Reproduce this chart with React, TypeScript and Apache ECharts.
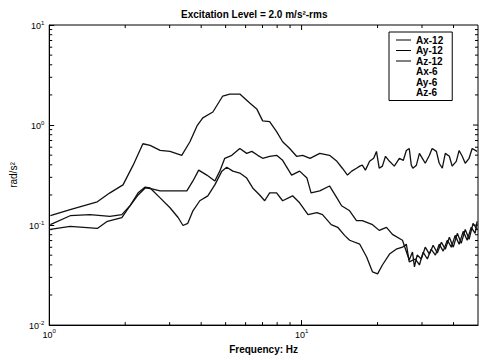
import React, { useEffect, useRef } from "react";
import * as echarts from "echarts";

// Frequency (Hz), response pairs
const axTop: number[][] = [
  [1.01, 0.124], [1.21, 0.143], [1.55, 0.171], [1.74, 0.21], [1.96, 0.252], [2.15, 0.397],
  [2.35, 0.65], [2.51, 0.625], [2.75, 0.557], [3.01, 0.545], [3.35, 0.498], [3.61, 0.68],
  [3.85, 0.98], [4.06, 1.18], [4.45, 1.35], [4.87, 1.95], [5.19, 2.04], [5.69, 2.04],
  [6.23, 1.66], [6.64, 1.45], [7.01, 1.1], [7.47, 1.08], [7.96, 0.86], [8.41, 0.68],
  [8.97, 0.583], [9.55, 0.487], [10.1, 0.498], [10.8, 0.465], [11.8, 0.521], [12.9, 0.498],
  [13.8, 0.434], [14.5, 0.37], [15.2, 0.316], [15.8, 0.346], [16.5, 0.37], [17.0, 0.388],
  [17.4, 0.397], [17.9, 0.354], [18.6, 0.434], [19.3, 0.465], [19.8, 0.545], [20.3, 0.37],
  [20.9, 0.388], [21.5, 0.487], [22.3, 0.434], [23.3, 0.388], [24.4, 0.465], [25.3, 0.444],
  [26.0, 0.557], [26.7, 0.583], [27.2, 0.397], [27.6, 0.37], [28.5, 0.397], [29.3, 0.521],
  [30.1, 0.465], [30.9, 0.415], [32.1, 0.498], [32.9, 0.583], [34.2, 0.545], [35.1, 0.415],
  [36.1, 0.37], [37.1, 0.521], [38.5, 0.487], [39.5, 0.388], [41.0, 0.434], [42.1, 0.557],
  [43.3, 0.487], [44.5, 0.415], [46.1, 0.465], [47.4, 0.583], [49.6, 0.545],
];

const ayMid: number[][] = [
  [1.01, 0.101], [1.21, 0.124], [1.45, 0.127], [1.74, 0.122], [1.94, 0.127], [2.09, 0.156],
  [2.25, 0.2], [2.4, 0.235], [2.55, 0.23], [2.75, 0.22], [3.09, 0.22], [3.51, 0.22],
  [3.71, 0.276], [3.91, 0.354], [4.21, 0.316], [4.53, 0.276], [4.74, 0.346], [4.96, 0.465],
  [5.29, 0.498], [5.69, 0.583], [6.06, 0.521], [6.35, 0.545], [6.7, 0.498], [7.01, 0.465],
  [7.47, 0.487], [7.96, 0.498], [8.41, 0.444], [9.13, 0.316], [9.82, 0.346], [10.5, 0.295],
  [10.9, 0.21], [11.8, 0.22], [12.9, 0.246], [13.8, 0.187], [14.4, 0.156], [15.5, 0.139],
  [16.5, 0.111], [17.4, 0.111], [19.1, 0.101], [20.3, 0.0885], [21.7, 0.095], [22.9, 0.0807],
  [25.1, 0.0705], [26.7, 0.0448], [27.5, 0.0537], [28.0, 0.0382], [28.7, 0.0501], [29.8, 0.0458],
  [30.9, 0.0601], [32.1, 0.0513], [33.2, 0.0628], [34.5, 0.0525], [35.8, 0.0673], [37.1, 0.0574],
  [38.5, 0.0755], [39.9, 0.0601], [41.4, 0.0827], [42.9, 0.0658], [44.5, 0.0905], [46.1, 0.0722],
  [47.8, 0.104], [49.6, 0.0905],
];

const azLow: number[][] = [
  [1.01, 0.0905], [1.21, 0.097], [1.55, 0.0925], [1.7, 0.109], [1.94, 0.119], [2.09, 0.156],
  [2.25, 0.21], [2.4, 0.24], [2.51, 0.235], [2.75, 0.187], [3.01, 0.149], [3.24, 0.119],
  [3.39, 0.099], [3.54, 0.104], [3.71, 0.139], [3.95, 0.175], [4.25, 0.196], [4.53, 0.252],
  [4.83, 0.346], [5.05, 0.379], [5.34, 0.346], [5.69, 0.331], [6.06, 0.295], [6.4, 0.235],
  [6.82, 0.2], [7.14, 0.175], [7.47, 0.21], [7.96, 0.21], [8.41, 0.175], [9.21, 0.196],
  [9.82, 0.167], [10.6, 0.127], [11.5, 0.133], [12.1, 0.127], [13.1, 0.101], [13.9, 0.095],
  [14.8, 0.0789], [15.5, 0.0705], [17.0, 0.0644], [18.1, 0.0479], [19.1, 0.034], [20.0, 0.0325],
  [20.9, 0.0399], [22.3, 0.0513], [23.7, 0.0574], [25.1, 0.0601], [26.0, 0.0644], [26.7, 0.0428],
  [28.2, 0.0458], [29.3, 0.0399], [30.3, 0.0537], [31.5, 0.0458], [32.6, 0.0574], [33.9, 0.0501],
  [35.1, 0.0644], [36.4, 0.0549], [37.8, 0.0705], [39.2, 0.0601], [40.6, 0.0789], [42.1, 0.0644],
  [43.7, 0.0865], [45.3, 0.0705], [47.0, 0.095], [48.7, 0.0827], [49.6, 0.109],
];

const seriesNames = ["Ax-12", "Ay-12", "Az-12", "Ax-6", "Ay-6", "Az-6"];
const xMinor = [2, 3, 4, 5, 6, 7, 8, 9, 20, 30, 40];
const yMinor = [
  0.02, 0.03, 0.04, 0.05, 0.06, 0.07, 0.08, 0.09,
  0.2, 0.3, 0.4, 0.5, 0.6, 0.7, 0.8, 0.9,
  2, 3, 4, 5, 6, 7, 8, 9,
];
const xMajor = [10];
const yMajor = [0.1, 1];

const FONT = "'Liberation Sans', Arial, sans-serif";

const expLabel = (v: number) => {
  const l = Math.log10(v);
  const e = Math.round(l);
  if (Math.abs(l - e) > 1e-6) return "";
  return `{b|10}{s|${e}}`;
};

export default function App() {
  const ref = useRef<HTMLDivElement>(null);
  useEffect(() => {
    if (!ref.current) return;
    const chart = echarts.init(ref.current, undefined, { renderer: "svg" });

    // tick marks: [x, y, kind] kind 0 = y minor, 1 = x minor, 2 = y major, 3 = x major
    const tickData: number[][] = [
      ...yMinor.map((v) => [1, v, 0]),
      ...xMinor.map((f) => [f, 0.01, 1]),
      ...yMajor.map((v) => [1, v, 2]),
      ...xMajor.map((f) => [f, 0.01, 3]),
    ];

    const lineStyle = { color: "#111", width: 1.3 };
    const rich = {
      b: { fontSize: 9, fontFamily: FONT, color: "#000", verticalAlign: "bottom", lineHeight: 11 },
      s: { fontSize: 6, fontFamily: FONT, color: "#000", verticalAlign: "top", lineHeight: 11 },
    };
    const hidden6 = { color: "#000", opacity: 0 };
    const legendLine = { width: 1, color: "#000" };

    chart.setOption({
      animation: false,
      backgroundColor: "#fff",
      title: {
        text: "Excitation Level = 2.0 m/s²-rms",
        left: 181,
        top: 9,
        padding: 0,
        textStyle: { fontFamily: FONT, fontSize: 10, fontWeight: "bold", color: "#000" },
      },
      legend: {
        orient: "vertical",
        left: 389,
        top: 32,
        padding: [3, 9, 3, 6],
        itemWidth: 15,
        itemHeight: 8,
        itemGap: 0.5,
        borderColor: "#000",
        borderWidth: 1,
        textStyle: { fontFamily: FONT, fontSize: 10, color: "#000", lineHeight: 9, fontWeight: "bold" },
        data: [
          { name: seriesNames[0], itemStyle: { opacity: 0 }, lineStyle: legendLine },
          { name: seriesNames[1], itemStyle: { opacity: 0 }, lineStyle: legendLine },
          { name: seriesNames[2], itemStyle: { opacity: 0 }, lineStyle: legendLine },
          { name: seriesNames[3], itemStyle: { opacity: 0 }, lineStyle: { opacity: 0 } },
          { name: seriesNames[4], itemStyle: { opacity: 0 }, lineStyle: { opacity: 0 } },
          { name: seriesNames[5], itemStyle: { opacity: 0 }, lineStyle: { opacity: 0 } },
        ],
      },
      grid: { left: 49, right: 4, top: 25, bottom: 30, show: true, borderColor: "#000", borderWidth: 1 },
      xAxis: {
        type: "log",
        logBase: 10,
        min: 1,
        max: 50,
        name: "Frequency: Hz",
        nameLocation: "middle",
        nameGap: 13,
        nameTextStyle: { fontFamily: FONT, fontSize: 10, fontWeight: "bold", color: "#000" },
        axisLine: { show: true, lineStyle: { color: "#000" } },
        axisTick: { show: true, inside: true, length: 5, lineStyle: { color: "#000" } },
        splitLine: { show: false },
        axisLabel: { margin: 3, formatter: expLabel, rich, showMaxLabel: false },
      },
      yAxis: {
        type: "log",
        logBase: 10,
        min: 0.01,
        max: 10,
        name: "rad/s²",
        nameLocation: "middle",
        nameGap: 17,
        nameTextStyle: { fontFamily: FONT, fontSize: 10, color: "#000" },
        axisLine: { show: true, lineStyle: { color: "#000" } },
        axisTick: { show: true, inside: true, length: 5, lineStyle: { color: "#000" } },
        splitLine: { show: false },
        axisLabel: { margin: 5, formatter: expLabel, rich },
      },
      series: [
        { name: seriesNames[0], type: "line", data: axTop, showSymbol: false, symbol: "none", color: "#111", lineStyle },
        { name: seriesNames[1], type: "line", data: ayMid, showSymbol: false, symbol: "none", color: "#111", lineStyle },
        { name: seriesNames[2], type: "line", data: azLow, showSymbol: false, symbol: "none", color: "#111", lineStyle },
        { name: seriesNames[3], type: "line", data: [], symbol: "none", color: "#000", lineStyle: hidden6, itemStyle: { opacity: 0 } },
        { name: seriesNames[4], type: "line", data: [], symbol: "none", color: "#000", lineStyle: hidden6, itemStyle: { opacity: 0 } },
        { name: seriesNames[5], type: "line", data: [], symbol: "none", color: "#000", lineStyle: hidden6, itemStyle: { opacity: 0 } },
        {
          name: "ticks",
          type: "custom",
          silent: true,
          data: tickData,
          renderItem: (params: any, api: any) => {
            const x = api.value(0);
            const y = api.value(1);
            const kind = api.value(2);
            const len = kind >= 2 ? 5 : 3;
            const style = { stroke: "#000", lineWidth: 1 };
            if (kind === 0 || kind === 2) {
              const l = api.coord([1, y]);
              const r = api.coord([50, y]);
              const children: any[] = [
                { type: "line", shape: { x1: r[0] - len, y1: r[1], x2: r[0], y2: r[1] }, style },
              ];
              if (kind === 0) children.push({ type: "line", shape: { x1: l[0], y1: l[1], x2: l[0] + len, y2: l[1] }, style });
              return { type: "group", children };
            }
            const b = api.coord([x, 0.01]);
            const t = api.coord([x, 10]);
            const children: any[] = [
              { type: "line", shape: { x1: t[0], y1: t[1], x2: t[0], y2: t[1] + len }, style },
            ];
            if (kind === 1) children.push({ type: "line", shape: { x1: b[0], y1: b[1], x2: b[0], y2: b[1] - len }, style });
            return { type: "group", children };
          },
        },
      ],
    });
    return () => chart.dispose();
  }, []);
  return (
    <div
      ref={ref}
      style={{ position: "fixed", left: 0, top: 0, width: 482, height: 359, background: "#fff" }}
    />
  );
}
